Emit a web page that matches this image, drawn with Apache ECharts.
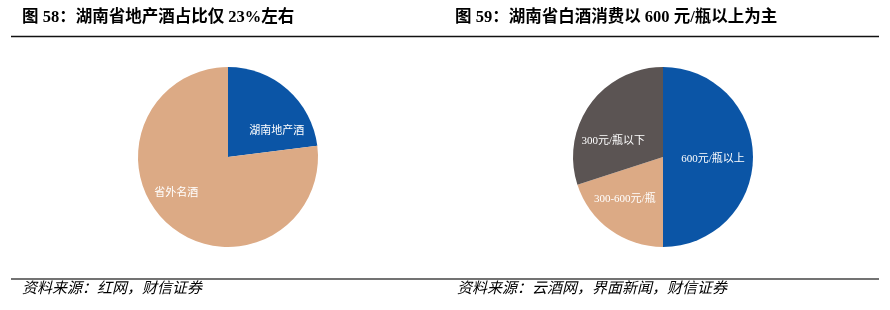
<!DOCTYPE html>
<html>
<head>
<meta charset="utf-8">
<script src="https://cdn.jsdelivr.net/npm/echarts@6/dist/echarts.min.js"></script>
<style>
  html, body { margin: 0; padding: 0; background: #fff; }
  #chart { width: 890px; height: 310px; }
</style>
</head>
<body>
<div id="chart"></div>
<script>
// 图58 湖南省地产酒占比
const leftNames = ['湖南地产酒', '省外名酒']
const leftValues = [23, 77]
// 图59 湖南省白酒消费价格带
const rightNames = ['600元/瓶以上', '300-600元/瓶', '300元/瓶以下']
const rightValues = [50, 20, 30]

const titles = ['图 58：湖南省地产酒占比仅 23%左右', '图 59：湖南省白酒消费以 600 元/瓶以上为主']
const sources = ['资料来源：红网，财信证券', '资料来源：云酒网，界面新闻，财信证券']

const serif = '"Liberation Serif", "Noto Sans CJK SC", serif'
const blue = '#0b55a6'
const tan = '#dcaa85'
const gray = '#5b5453'

const chart = echarts.init(document.getElementById('chart'))

function pieData(names, values, colors, offsets) {
  return names.map((n, i) => ({
    name: n,
    value: values[i],
    itemStyle: { color: colors[i] },
    label: { offset: offsets[i] }
  }))
}

const pieBase = {
  type: 'pie',
  radius: 90,
  startAngle: 90,
  clockwise: true,
  silent: true,
  label: {
    show: true,
    position: 'inside',
    formatter: '{b}',
    color: '#fff',
    fontFamily: serif,
    fontSize: 11
  },
  labelLine: { show: false },
  itemStyle: { borderWidth: 0 }
}

chart.setOption({
  animation: false,
  graphic: [
    { type: 'text', left: 22, top: 9, style: { text: titles[0], font: 'bold 16.5px ' + serif, fill: '#000' } },
    { type: 'text', left: 455, top: 9, style: { text: titles[1], font: 'bold 16.5px ' + serif, fill: '#000' } },
    { type: 'line', shape: { x1: 11, y1: 36.5, x2: 879, y2: 36.5 }, style: { stroke: '#111', lineWidth: 1.5 } },
    { type: 'line', shape: { x1: 11, y1: 279, x2: 879, y2: 279 }, style: { stroke: '#444', lineWidth: 1.5 } },
    { type: 'text', left: 22, top: 282, style: { text: sources[0], font: 'italic 15px ' + serif, fill: '#000' } },
    { type: 'text', left: 457, top: 282, style: { text: sources[1], font: 'italic 15px ' + serif, fill: '#000' } }
  ],
  series: [
    Object.assign({}, pieBase, {
      center: [228, 157],
      data: pieData(leftNames, leftValues, [blue, tan], [[17, 10], [-20, 0]])
    }),
    Object.assign({}, pieBase, {
      center: [663, 157],
      data: pieData(rightNames, rightValues, [blue, tan, gray], [[2, 2], [-10, 3], [-11, 12]])
    })
  ]
})
</script>
</body>
</html>
